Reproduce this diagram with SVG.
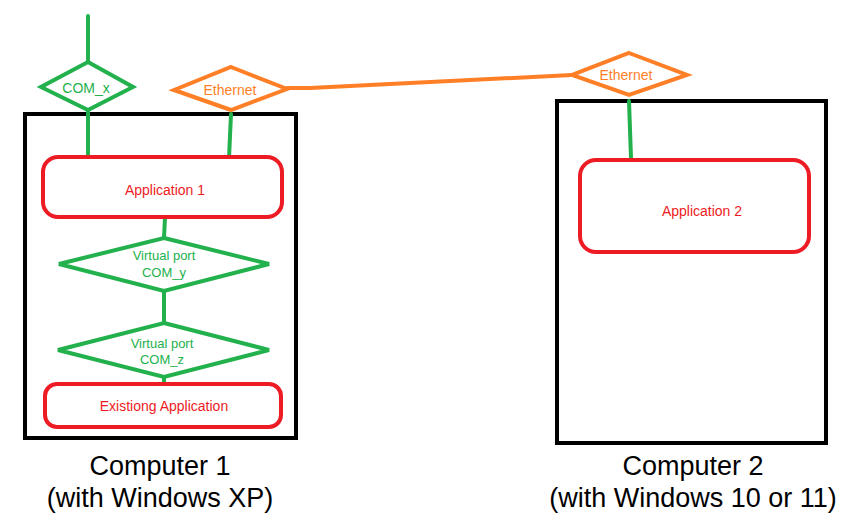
<svg xmlns="http://www.w3.org/2000/svg" width="865" height="532" viewBox="0 0 865 532">
<style>
.box{fill:none;stroke:#000;stroke-width:4}
.app{fill:#fff;stroke:#ed1c24;stroke-width:4}
.gd{fill:#fff;stroke:#22b14c;stroke-width:4;stroke-linejoin:miter}
.od{fill:#fff;stroke:#ff7f27;stroke-width:4}
.gl{fill:none;stroke:#22b14c;stroke-width:4;stroke-linecap:round}
.ol{fill:none;stroke:#ff7f27;stroke-width:4;stroke-linecap:round}
text{font-family:"Liberation Sans",Arial,sans-serif;text-anchor:middle}
.rt{fill:#ed1c24;font-size:14px}
.gt{fill:#22b14c;font-size:13px}
.ot{fill:#ff7f27;font-size:14px}
.bt{fill:#000;font-size:27px}
</style>
<rect width="865" height="532" fill="#fff"/>
<g id="computer1"><rect class="box" x="25" y="114" width="271" height="324"/>
<text class="bt" x="160" y="475">Computer 1</text><text class="bt" x="160" y="507">(with Windows XP)</text></g>
<g id="computer2"><rect class="box" x="557" y="101" width="269" height="342"/>
<text class="bt" x="693" y="475">Computer 2</text><text class="bt" x="693" y="507">(with Windows 10 or 11)</text></g>
<g id="connectors">
<line class="gl" x1="88" y1="16" x2="88" y2="62"/>
<line class="gl" x1="88" y1="110" x2="88" y2="158"/>
<line class="gl" x1="231" y1="114" x2="229" y2="158"/>
<line class="gl" x1="165" y1="217" x2="164" y2="238"/>
<line class="gl" x1="164" y1="291" x2="164" y2="323"/>
<line class="gl" x1="164" y1="377" x2="164" y2="384"/>
<line class="gl" x1="629" y1="101" x2="631" y2="158"/>
<polyline class="ol" points="287,88 310,88 572,75"/>
</g>
<g id="com_x"><polygon class="gd" points="88,62 133,87 88,110 41,87"/><text class="gt" x="86" y="93" style="font-size:14px">COM_x</text></g>
<g id="ethernet1"><polygon class="od" points="231,67 287,89 231,110 174,90"/><text class="ot" x="230" y="95">Ethernet</text></g>
<g id="ethernet2"><polygon class="od" points="629,53 687,75 629,95 572,75"/><text class="ot" x="626" y="80">Ethernet</text></g>
<g id="app1"><rect class="app" x="43" y="157" width="239" height="60" rx="15"/><text class="rt" x="165" y="195">Application 1</text></g>
<g id="com_y"><polygon class="gd" points="164,238 269,264 164,291 59,264"/><text class="gt" x="164" y="260">Virtual port</text><text class="gt" x="164" y="277">COM_y</text></g>
<g id="com_z"><polygon class="gd" points="164,323 269,350 164,377 58,350"/><text class="gt" x="162" y="348">Virtual port</text><text class="gt" x="162" y="364">COM_z</text></g>
<g id="existing"><rect class="app" x="45" y="384" width="236" height="43" rx="12"/><text class="rt" x="164" y="411">Existiong Application</text></g>
<g id="app2"><rect class="app" x="580" y="160" width="229" height="92" rx="16"/><text class="rt" x="702" y="216">Application 2</text></g>
</svg>
